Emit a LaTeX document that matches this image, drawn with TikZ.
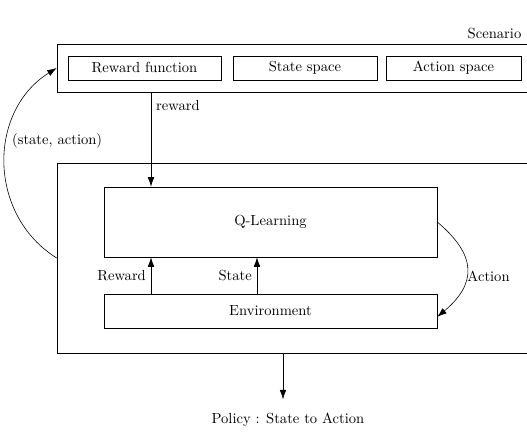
\documentclass[tikz,border=0pt]{standalone}
\usetikzlibrary{arrows.meta}
\begin{document}
\begin{tikzpicture}[x=0.685pt, y=-0.685pt,
        box/.style={draw, inner sep=0pt},
        arr/.style={-{Latex[length=6.5pt, width=4.5pt]}}]
            \useasboundingbox (0,0) rectangle (527,433);

            % Scenario
            \node[box, minimum width=325.4pt, minimum height=32.9pt] (scen) at (294.5,68) {};
            \node[anchor=south east] (scenlbl) at ([xshift=-4pt]scen.north east) {Scenario};
            \node[box, minimum width=104.8pt, minimum height=16.4pt] (rf) at (144.5,68) {Reward function};
            \node[box, minimum width=98.6pt, minimum height=16.4pt] (ss) at (305,68) {State space};
            \node[box, minimum width=92.5pt, minimum height=16.4pt] (as) at (453.5,68) {Action space};

            % Agent
            \node[box, minimum width=330.9pt, minimum height=130.2pt] (agent) at (298.5,258) {};
            \node[box, minimum width=228.1pt, minimum height=48pt] (ql) at (270.5,222) {Q-Learning};
            \node[box, minimum width=228.1pt, minimum height=23.3pt] (env) at (270.5,311) {Environment};
            \node (policy) at (288,420) {Policy : State to Action};

            \coordinate (rx) at (151,0); \coordinate (sx) at (257,0);
            \coordinate (agentout) at (283,353);

            \draw[arr] (scen.south -| rx) -- node[pos=0.14, right] {reward} (ql.north -| rx);
            \draw[arr] (env.north -| rx) -- node[left] {Reward} (ql.south -| rx);
            \draw[arr] (env.north -| sx) -- node[left] {State} (ql.south -| sx);
            \draw[arr] (ql.east) to[bend left=50, looseness=1.4] node[pos=0.57, right, inner sep=0.5pt] {Action} ([yshift=-4pt]env.east);
            \draw[arr] (agent.west) to[bend left=58, looseness=1.1] node[pos=0.6, right] {(state, action)} (scen.west);
            \draw[arr] (agentout) -- ([yshift=6pt]agentout |- policy.north); % policy output
\end{tikzpicture}
\end{document}
